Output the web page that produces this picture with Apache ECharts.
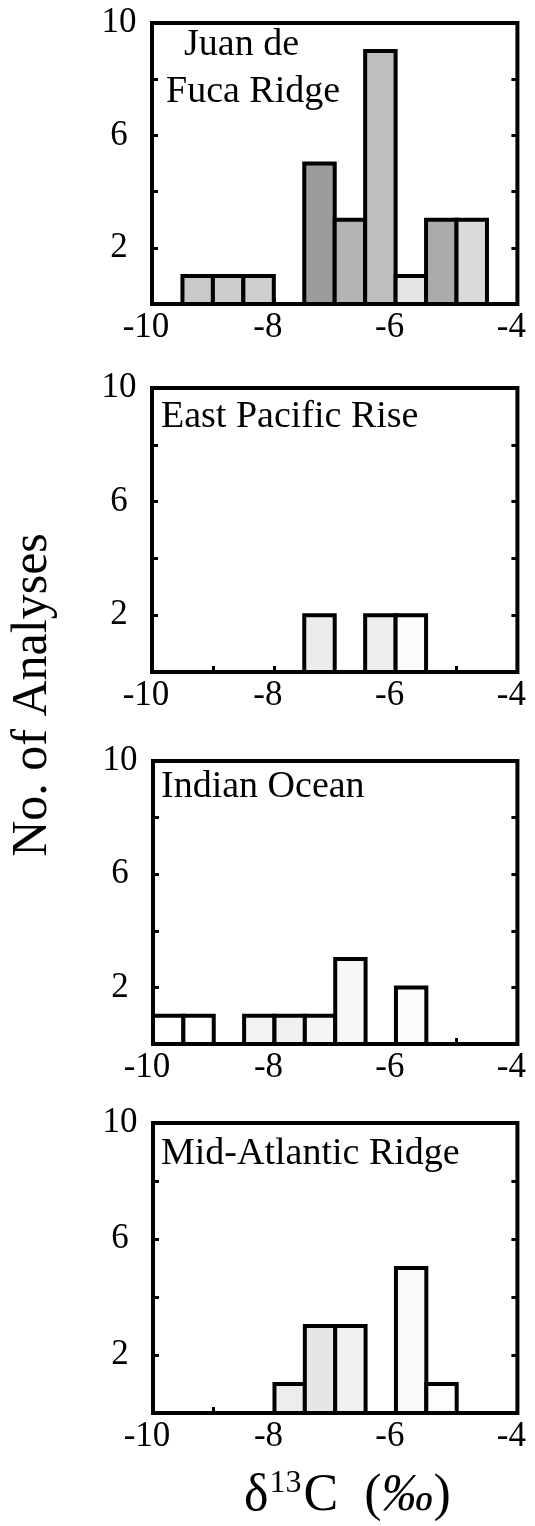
<!DOCTYPE html>
<html>
<head>
<meta charset="utf-8">
<title>δ13C histograms by ridge system</title>
<script src="https://cdn.jsdelivr.net/npm/echarts@6/dist/echarts.min.js"></script>
<style>
  html, body { margin: 0; padding: 0; background: #fff; }
  #chart { width: 535px; height: 1526px; }
</style>
</head>
<body>
<div id="chart"></div>
<script>
// ---- data -------------------------------------------------------------
// Lower edges of the 0.5 per-mil δ13C bins, from -10 to -4.
const binStarts = [-10, -9.5, -9, -8.5, -8, -7.5, -7, -6.5, -6, -5.5, -5, -4.5];
const binWidth = 0.5;

// Number of analyses per bin for each ridge system.
const juanDeFucaCounts   = [0, 1, 1, 1, 0, 5, 3, 9, 1, 3, 3, 0];
const eastPacificCounts  = [0, 0, 0, 0, 0, 2, 0, 2, 2, 0, 0, 0];
const indianOceanCounts  = [1, 1, 0, 1, 1, 1, 3, 0, 2, 0, 0, 0];
const midAtlanticCounts  = [0, 0, 0, 0, 1, 3, 3, 0, 5, 1, 0, 0];

const panelNames = [['Juan de', 'Fuca Ridge'], ['East Pacific Rise'], ['Indian Ocean'], ['Mid-Atlantic Ridge']];

const xTickLabels = [-10, -8, -6, -4];
const yTickLabels = [2, 6, 10];

// ---- styling ----------------------------------------------------------
const juanShades   = ['#fff', '#c9c9c9', '#cdcdcd', '#cfcfcf', '#fff', '#9c9c9c', '#b4b4b4', '#bebebe', '#e6e6e6', '#ababab', '#dadada', '#fff'];
const eastShades   = ['#fff', '#fff', '#fff', '#fff', '#fff', '#ececec', '#fff', '#eeeeee', '#fcfcfc', '#fff', '#fff', '#fff'];
const indianShades = ['#fff', '#fff', '#fff', '#f2f2f2', '#f0f0f0', '#f5f5f5', '#f7f7f7', '#fff', '#fcfcfc', '#fff', '#fff', '#fff'];
const midShades    = ['#fff', '#fff', '#fff', '#fff', '#ededed', '#e6e6e6', '#f1f1f1', '#fff', '#f9f9f9', '#fdfdfd', '#fff', '#fff'];

const panels = [
  { counts: juanDeFucaCounts,  shades: juanShades,   grid: { left: 152, top: 23,   width: 373, height: 281 } },
  { counts: eastPacificCounts, shades: eastShades,   grid: { left: 152, top: 388,  width: 373, height: 284 } },
  { counts: indianOceanCounts, shades: indianShades, grid: { left: 153, top: 761,  width: 375, height: 283 } },
  { counts: midAtlanticCounts, shades: midShades,    grid: { left: 153, top: 1123, width: 378, height: 290 } }
];
const titleSpots = [
  [[184, 26], [166, 73]],
  [[161, 398]],
  [[161, 768]],
  [[161, 1135]]
];

const serif = '"Liberation Serif", "Times New Roman", serif';
const tickFont = 35;
const frameWidth = 4;

const grids = [], xAxes = [], yAxes = [], series = [], graphics = [];

panels.forEach((p, i) => {
  grids.push(Object.assign({ show: true, borderColor: '#000', borderWidth: frameWidth, backgroundColor: 'transparent' }, p.grid));

  xAxes.push({
    type: 'value', gridIndex: i, min: -10, max: -4, interval: 1,
    splitLine: { show: false },
    axisLine: { show: false },
    axisTick: { show: true, inside: true, length: 6, lineStyle: { color: '#000', width: 3 } },
    axisLabel: {
      show: true, margin: 6, color: '#000', fontFamily: serif, fontSize: tickFont,
      formatter: v => xTickLabels.includes(v) ? '{t|' + v + '}{pad|}' : '',
      rich: { t: { fontFamily: serif, fontSize: tickFont, color: '#000' }, pad: { width: 12 } }
    }
  });

  const yBase = {
    type: 'value', gridIndex: i, min: 0, max: 10, interval: 2,
    splitLine: { show: false },
    axisLine: { show: false },
    axisTick: { show: true, inside: true, length: 6, lineStyle: { color: '#000', width: 3 } }
  };
  yAxes.push(Object.assign({}, yBase, {
    position: 'left',
    axisLabel: {
      show: true, margin: 33, align: 'center', padding: [14, 0, 0, 0],
      color: '#000', fontFamily: serif, fontSize: tickFont,
      formatter: v => yTickLabels.includes(v) ? String(v) : ''
    }
  }));
  yAxes.push(Object.assign({}, yBase, { position: 'right', axisLabel: { show: false } }));

  const rows = [];
  binStarts.forEach((b, k) => {
    if (p.counts[k] > 0) rows.push([b, b + binWidth, p.counts[k], k]);
  });

  series.push({
    type: 'custom', xAxisIndex: i, yAxisIndex: i * 2, z: 3,
    data: rows,
    renderItem: (params, api) => {
      const topLeft = api.coord([api.value(0), api.value(2)]);
      const bottomRight = api.coord([api.value(1), 0]);
      return {
        type: 'rect',
        shape: { x: topLeft[0], y: topLeft[1], width: bottomRight[0] - topLeft[0], height: bottomRight[1] - topLeft[1] },
        style: { fill: p.shades[api.value(3)], stroke: '#000', lineWidth: 4 }
      };
    }
  });

  panelNames[i].forEach((line, j) => {
    graphics.push({
      type: 'text', left: titleSpots[i][j][0], top: titleSpots[i][j][1], z: 10,
      style: { text: line, font: '38px ' + serif, fill: '#000' }
    });
  });
});

// Shared y-axis title, read bottom to top.
graphics.push({
  type: 'text', x: 33, y: 695, rotation: Math.PI / 2, z: 10,
  style: { text: 'No. of Analyses', font: '50px ' + serif, fill: '#000', textAlign: 'center', textVerticalAlign: 'middle' }
});

// Shared x-axis title: δ13C (‰)
graphics.push({
  type: 'text', x: 244, y: 1468, z: 10,
  style: {
    text: '{d|δ}{s|13}{c|C  (}{p|‰}{c|)}',
    textAlign: 'left', textVerticalAlign: 'top', fill: '#000',
    rich: {
      d: { fontFamily: serif, fontSize: 52, lineHeight: 56, color: '#000' },
      s: { fontFamily: serif, fontSize: 32, color: '#000', verticalAlign: 'top', padding: [0, 2, 0, 1] },
      c: { fontFamily: serif, fontSize: 52, lineHeight: 56, color: '#000' },
      p: { fontFamily: serif, fontSize: 52, lineHeight: 56, fontStyle: 'italic', color: '#000' }
    }
  }
});

const chart = echarts.init(document.getElementById('chart'), null, { renderer: 'canvas' });
chart.setOption({
  animation: false,
  backgroundColor: '#fff',
  grid: grids,
  xAxis: xAxes,
  yAxis: yAxes,
  series: series,
  graphic: graphics
});
</script>
</body>
</html>
